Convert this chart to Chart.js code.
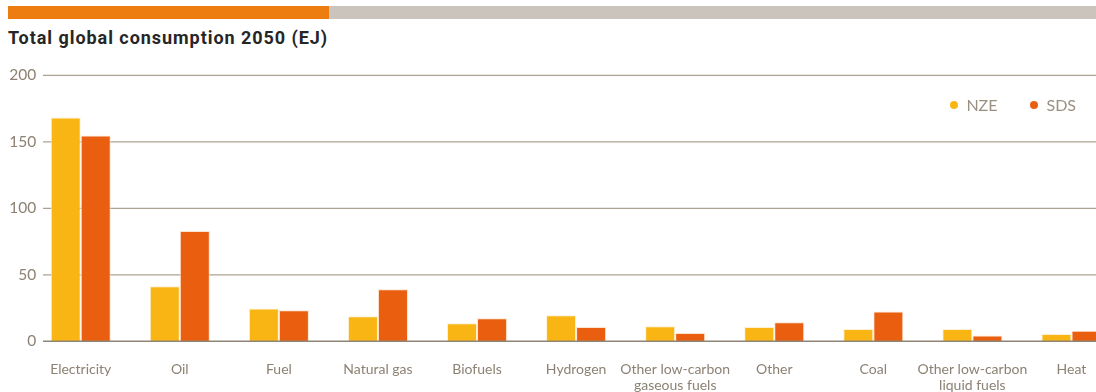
<!DOCTYPE html>
<html>
<head>
<meta charset="utf-8">
<title>Total global consumption 2050</title>
<script src="https://cdn.jsdelivr.net/npm/chart.js@4.4.1/dist/chart.umd.min.js"></script>
<style>
  html, body { margin: 0; padding: 0; background: #fff; overflow: hidden; }
  body { width: 1096px; height: 392px; position: relative; }
  .topbar { position: absolute; left: 8px; right: 0; top: 6px; height: 13px; background: #cbc4bc; }
  .topbar span { display: block; width: 321px; height: 100%; background: #ee7d11; }
  h1 { position: absolute; left: 8px; top: 29px; margin: 0; font: 700 18px/18px Roboto, sans-serif; letter-spacing: 0.95px;
       color: #262626; white-space: nowrap; }
  .wrap { position: absolute; left: 0; top: 0; width: 1121px; height: 392px; }
  #legend { position: absolute; top: 96px; right: 20px; margin: 0; padding: 0; list-style: none; display: flex;
            font: 16px/18px Lato, sans-serif; color: #9a8f80; }
  #legend li { display: flex; align-items: center; margin-left: 33px; }
  #legend .dot { width: 8px; height: 8px; border-radius: 50%; margin-right: 8px; }
</style>
</head>
<body>
<div class="topbar"><span></span></div>
<h1>Total global consumption 2050 (EJ)</h1>
<div class="wrap"><canvas id="chart"></canvas></div>
<ul id="legend"></ul>
<script>
const categories = ['Electricity', 'Oil', 'Fuel', 'Natural gas', 'Biofuels', 'Hydrogen',
  ['Other low-carbon', 'gaseous fuels'], 'Other', 'Coal', ['Other low-carbon', 'liquid fuels'], 'Heat'];
const nzeValues = [168.2, 41.4, 24.6, 18.8, 13.6, 19.5, 11.3, 10.8, 9.3, 9.3, 5.4];
const sdsValues = [154.7, 82.9, 23.3, 39.2, 17.4, 10.8, 6.2, 14.4, 22.4, 4.4, 8.0];
const yTicks = [0, 50, 100, 150, 200];

const labelColor = '#8c8173';

// horizontal rules, starting a little right of the tick labels
const gridLines = {
  id: 'gridLines',
  beforeDatasetsDraw(chart) {
    const { ctx, scales: { y } } = chart;
    ctx.save();
    ctx.strokeStyle = '#aca292';
    ctx.lineWidth = 1.2;
    y.ticks.forEach(t => {
      if (t.value === 0) return;
      const py = y.getPixelForValue(t.value);
      ctx.beginPath();
      ctx.moveTo(43, py);
      ctx.lineTo(chart.width, py);
      ctx.stroke();
    });
    ctx.restore();
  },
  afterDatasetsDraw(chart) {
    const { ctx, scales: { y } } = chart;
    const py = y.getPixelForValue(0);
    ctx.save();
    ctx.strokeStyle = '#8f8574';
    ctx.lineWidth = 1.6;
    ctx.beginPath();
    ctx.moveTo(43, py);
    ctx.lineTo(chart.width, py);
    ctx.stroke();
    ctx.restore();
  }
};

const chart = new Chart(document.getElementById('chart'), {
  type: 'bar',
  data: {
    labels: categories,
    datasets: [
      { label: 'NZE', data: nzeValues, backgroundColor: '#f8b514', borderColor: 'rgba(255,238,205,0.9)', borderWidth: 1 },
      { label: 'SDS', data: sdsValues, backgroundColor: '#e95e0f', borderColor: 'rgba(255,225,200,0.9)', borderWidth: 1 }
    ]
  },
  options: {
    responsive: true,
    maintainAspectRatio: false,
    animation: false,
    layout: { padding: { top: 75.3, left: 0, right: 0, bottom: 0 } },
    datasets: { bar: { categoryPercentage: 0.606, barPercentage: 1.0 } },
    plugins: { legend: { display: false }, tooltip: { enabled: false } },
    scales: {
      x: {
        grid: { display: false, drawTicks: false },
        border: { display: false },
        ticks: { color: labelColor, font: { family: 'Lato', size: 14, lineHeight: 1.15 }, padding: 20, maxRotation: 0, autoSkip: false },
        afterFit(s) { s.height = 50.7; }
      },
      y: {
        min: 0,
        max: 200,
        grid: { display: false, drawTicks: false },
        border: { display: false },
        afterBuildTicks(s) { s.ticks = yTicks.map(v => ({ value: v })); },
        // mirrored so the labels are not clipped to the narrow axis box; 'far' keeps them right-aligned
        ticks: { color: labelColor, font: { family: 'Lato', size: 15.5 }, mirror: true, crossAlign: 'far', padding: -22 },
        afterFit(s) { s.width = 31.2; }
      }
    }
  },
  plugins: [gridLines]
});

// legend built from the datasets
const legendEl = document.getElementById('legend');
chart.data.datasets.forEach(ds => {
  const li = document.createElement('li');
  const dot = document.createElement('span');
  dot.className = 'dot';
  dot.style.background = ds.backgroundColor;
  li.appendChild(dot);
  li.appendChild(document.createTextNode(ds.label));
  legendEl.appendChild(li);
});
</script>
</body>
</html>
